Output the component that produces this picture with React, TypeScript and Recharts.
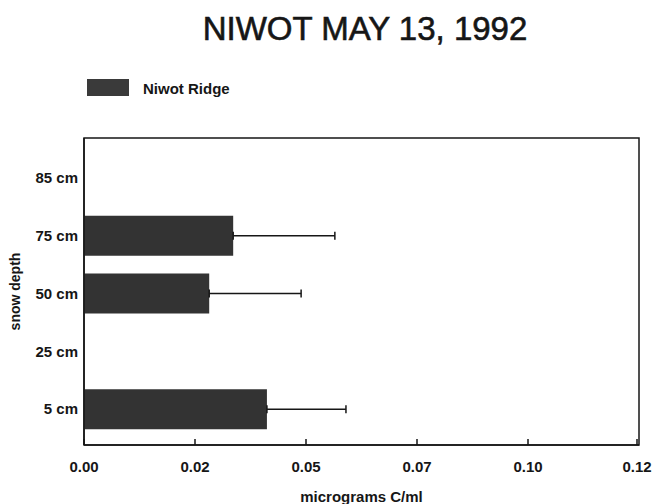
import React from 'react';
import * as R from 'recharts';
import { BarChart, Bar, XAxis, YAxis, ErrorBar } from 'recharts';

const depthLabels = ['85 cm', '75 cm', '50 cm', '25 cm', '5 cm'];
const niwotValues: (number | null)[] = [null, 0.0336, 0.0282, null, 0.0412];
const niwotErrors: (number | null)[] = [null, 0.0229, 0.0207, null, 0.0178];
const xTicks = [0, 0.025, 0.05, 0.075, 0.1, 0.125];
const xTickLabels = ['0.00', '0.02', '0.05', '0.07', '0.10', '0.12'];
const seriesName = 'Niwot Ridge';
const titleText = 'NIWOT MAY 13, 1992';
const xLabelText = 'micrograms C/ml';
const yLabelText = 'snow depth';

const data = depthLabels.map((d, i) => ({
  depth: d,
  value: niwotValues[i],
  err: niwotErrors[i] == null ? null : [0, niwotErrors[i] as number],
}));

const FONT = '"Liberation Sans", Arial, Helvetica, sans-serif';
const INK = '#161616';
const BAR = '#333333';
const X_TICK_MARGIN = 16;
const X_TICK_LEN = 6;

function Frame() {
  const usePA = (R as any).usePlotArea;
  const plot = usePA ? usePA() : null;
  if (!plot) return null;
  return (
    <rect x={plot.x} y={plot.y} width={plot.width} height={plot.height} fill="none" stroke={INK} strokeWidth={1.5} />
  );
}

const XTick = (props: any) => {
  const { x, y, payload } = props;
  const v = payload?.value;
  const idx = xTicks.indexOf(v);
  const label = idx >= 0 ? xTickLabels[idx] : String(v);
  const axisY = y - X_TICK_MARGIN;
  return (
    <g>
      <line x1={x} x2={x} y1={axisY} y2={axisY - X_TICK_LEN} stroke={INK} strokeWidth={1.5} />
      <text x={x} y={y + 11} textAnchor="middle" fontFamily={FONT} fontWeight="bold" fontSize={15} fill={INK}>
        {label}
      </text>
    </g>
  );
};

const YLabel = (props: any) => {
  const vb = props.viewBox || {};
  const cx = 15;
  const cy = vb.y + vb.height / 2;
  return (
    <text x={cx} y={cy} transform={`rotate(-90, ${cx}, ${cy})`} textAnchor="middle" dominantBaseline="central"
      fontFamily={FONT} fontWeight="bold" fontSize={14} fill={INK}>
      {yLabelText}
    </text>
  );
};

const XLabel = (props: any) => {
  const vb = props.viewBox || {};
  return (
    <text x={vb.x + vb.width / 2} y={vb.y + 57} textAnchor="middle" fontFamily={FONT} fontWeight="bold" fontSize={15} fill={INK}>
      {xLabelText}
    </text>
  );
};

export default function App() {
  return (
    <div style={{ position: 'absolute', left: 0, top: 0, width: 655, height: 504, background: '#fff' }}>
      <div style={{ position: 'absolute', left: 0, top: 13, width: 730, textAlign: 'center', fontFamily: FONT, fontSize: 33, lineHeight: '32px', color: INK, whiteSpace: 'nowrap', WebkitTextStroke: '0.6px #161616' }}>
        {titleText}
      </div>
      <div style={{ position: 'absolute', left: 87, top: 79, width: 42, height: 17, background: '#3a3a3a' }} />
      <div style={{ position: 'absolute', left: 143, top: 80, fontFamily: FONT, fontWeight: 'bold', fontSize: 15, lineHeight: '17px', color: INK, whiteSpace: 'nowrap' }}>
        {seriesName}
      </div>
      <BarChart
        width={655}
        height={504}
        data={data}
        layout="vertical"
        margin={{ top: 138, right: 16, bottom: 19, left: 0 }}
        barSize={40}
      >
        <XAxis
          type="number"
          domain={[0, 0.125]}
          ticks={xTicks}
          allowDataOverflow
          height={40}
          tickLine={false}
          tickSize={0}
          tickMargin={X_TICK_MARGIN}
          tick={<XTick />}
          axisLine={{ stroke: INK, strokeWidth: 1.5 }}
          label={{ content: XLabel }}
        />
        <YAxis
          type="category"
          dataKey="depth"
          width={84}
          padding={{ top: 11, bottom: 7 }}
          tickLine={false}
          tickMargin={0}
          tick={{ fontFamily: FONT, fontWeight: 'bold', fontSize: 15, fill: INK }}
          axisLine={{ stroke: INK, strokeWidth: 1.5 }}
          label={{ content: YLabel }}
        />
        <Bar dataKey="value" name={seriesName} fill={BAR} isAnimationActive={false}>
          <ErrorBar dataKey="err" direction="x" width={4} stroke={INK} strokeWidth={1.5} />
        </Bar>
        <Frame />
      </BarChart>
    </div>
  );
}
